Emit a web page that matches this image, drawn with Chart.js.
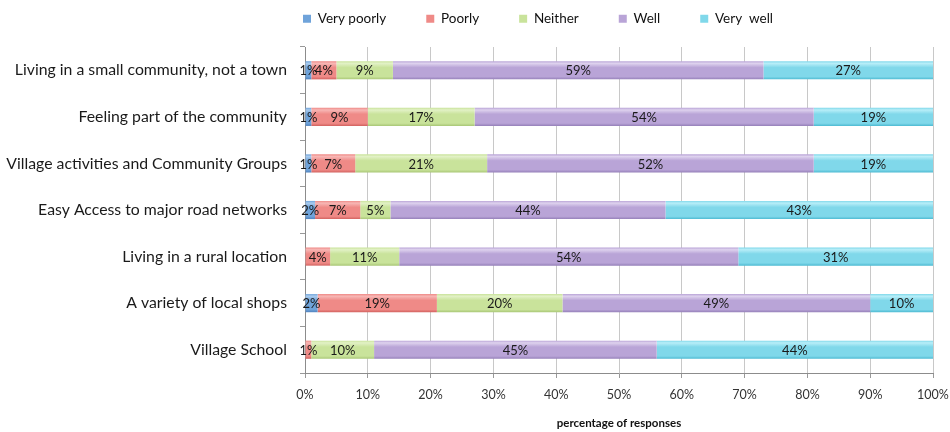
<!DOCTYPE html>
<html>
<head>
<meta charset="utf-8">
<script src="https://cdn.jsdelivr.net/npm/chart.js@4/dist/chart.umd.min.js"></script>
<style>
html,body{margin:0;padding:0;background:#fff;}
#wrap{width:950px;height:432px;position:relative;}
</style>
</head>
<body>
<div id="wrap"><canvas id="c" width="950" height="432"></canvas></div>
<script>
const categories = [
  "Living in a small community, not a town",
  "Feeling part of the community",
  "Village activities and Community Groups",
  "Easy Access to major road networks",
  "Living in a rural location",
  "A variety of local shops",
  "Village School"
];
const seriesNames = ["Very poorly", "Poorly", "Neither", "Well", "Very  well"];
const veryPoorly = [1, 1, 1, 1.6, 0, 2, 0];
const poorly     = [4, 9, 7, 7.2, 4, 19, 1];
const neither    = [9, 17, 21, 4.8, 11, 20, 10];
const well       = [59, 54, 52, 43.8, 54, 49, 45];
const veryWell   = [27, 19, 19, 42.6, 31, 10, 44];
const xTicks = [0, 10, 20, 30, 40, 50, 60, 70, 80, 90, 100];

const palette = [
  {base:'#6FA3DA', light:'#A9CBEE', dark:'#4F82BE'},
  {base:'#EF8A87', light:'#F7B7B5', dark:'#D2625F'},
  {base:'#C9E39B', light:'#E2F1C6', dark:'#A9C776'},
  {base:'#B9A4D7', light:'#DED2EE', dark:'#9580B9'},
  {base:'#80D8EA', light:'#B8EEF8', dark:'#4DBAD2'}
];
const BAR_PCT = 0.39;

function barGradient(ctx, i) {
  const chart = ctx.chart;
  const y = chart.scales && chart.scales.y;
  const p = palette[i];
  if (!y || !chart.chartArea || ctx.dataIndex === undefined) return p.base;
  const yc = y.getPixelForValue(ctx.dataIndex);
  const h = (y.bottom - y.top) / categories.length * BAR_PCT;
  const g = chart.ctx.createLinearGradient(0, yc - h / 2, 0, yc + h / 2);
  g.addColorStop(0, p.base);
  g.addColorStop(0.12, p.light);
  g.addColorStop(0.35, p.base);
  g.addColorStop(0.85, p.base);
  g.addColorStop(1, p.dark);
  return g;
}

const seriesData = [veryPoorly, poorly, neither, well, veryWell];
const datasets = seriesData.map((d, i) => ({
  label: seriesNames[i],
  data: d,
  backgroundColor: (ctx) => barGradient(ctx, i),
  borderWidth: 0,
  barPercentage: BAR_PCT,
  categoryPercentage: 1
}));

const FONT = "Lato, 'Open Sans', sans-serif";

const labelPlugin = {
  id: 'segLabels',
  afterDatasetsDraw(chart) {
    const ctx = chart.ctx;
    ctx.save();
    ctx.font = "13px " + FONT;
    ctx.fillStyle = '#1a1a1a';
    ctx.textAlign = 'center';
    ctx.textBaseline = 'middle';
    chart.data.datasets.forEach((ds, di) => {
      const meta = chart.getDatasetMeta(di);
      meta.data.forEach((el, i) => {
        const v = ds.data[i];
        if (!v) return;
        const cx = (el.x + el.base) / 2;
        ctx.fillText(Math.round(v) + '%', cx, el.y + 1);
      });
    });
    ctx.restore();
  }
};

const legendTweak = {
  id: 'legendTweak',
  afterInit(chart) {
    const lg = chart.legend;
    if (!lg) return;
    const orig = lg.fit.bind(lg);
    lg.fit = function () { orig(); this.height = 47; };
  },
  afterLayout(chart) {
    const lg = chart.legend;
    if (!lg || !lg.lineWidths) return;
    const pad = lg.options.labels.padding;
    lg.left = 0;
    lg.right = 2 * 303 - pad + lg.lineWidths[0];
    lg.top = 12 - pad;
  }
};

new Chart(document.getElementById('c'), {
  type: 'bar',
  data: { labels: categories, datasets },
  options: {
    indexAxis: 'y',
    responsive: false,
    animation: false,
    maintainAspectRatio: false,
    layout: { padding: { left: 0, right: 17, top: 0, bottom: 0 } },
    plugins: {
      legend: {
        position: 'top',
        labels: {
          boxWidth: 8,
          boxHeight: 8,
          padding: 40,
          color: '#111',
          font: { family: FONT, size: 13.5 },
          generateLabels(chart) {
            const items = Chart.defaults.plugins.legend.labels.generateLabels(chart);
            items.forEach((it, i) => {
              it.fillStyle = palette[i].base;
              it.strokeStyle = palette[i].dark;
              it.lineWidth = 0;
            });
            return items;
          }
        }
      },
      tooltip: { enabled: false }
    },
    scales: {
      x: {
        stacked: true,
        min: 0,
        max: 100,
        afterBuildTicks(s) { s.ticks = xTicks.map(v => ({ value: v })); },
        afterFit(s) { s.height = 59; s.paddingRight = 0; s.paddingLeft = 0; },
        ticks: {
          callback: (v) => v + '%',
          color: '#333',
          font: { family: FONT, size: 12.5 },
          padding: 9,
          maxRotation: 0
        },
        grid: { color: '#c8c8c8', lineWidth: 1, tickLength: 5, tickColor: '#999' },
        border: { color: '#8c8c8c' },
        title: {
          display: true,
          text: 'percentage of responses',
          color: '#111',
          font: { family: FONT, size: 11.5, weight: 'bold' },
          padding: { top: 4, bottom: 2 }
        }
      },
      y: {
        stacked: true,
        afterFit(s) { s.width = 305; },
        ticks: {
          color: '#1a1a1a',
          font: { family: FONT, size: 15.8 },
          padding: 13
        },
        grid: { drawOnChartArea: false, offset: true, tickLength: 5, tickColor: '#999' },
        border: { color: '#8c8c8c' }
      }
    }
  },
  plugins: [labelPlugin, legendTweak]
});
</script>
</body>
</html>
